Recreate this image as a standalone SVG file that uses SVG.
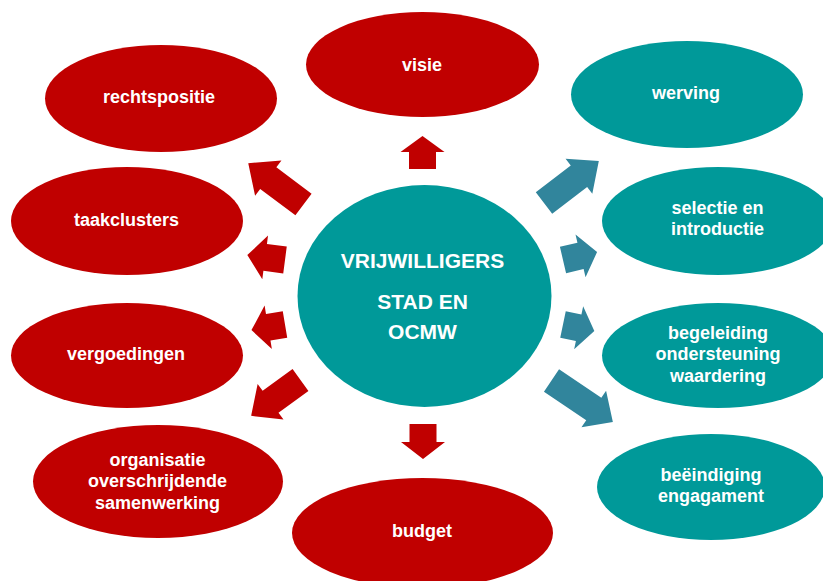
<svg xmlns="http://www.w3.org/2000/svg" width="823" height="581" viewBox="0 0 823 581">
<style>
.red{fill:#C00000}
.teal{fill:#009999}
.arr-r{fill:#C00000}
.arr-b{fill:#31859C}
text{font-family:"Liberation Sans",Arial,sans-serif;font-weight:bold;fill:#FFFFFF;text-anchor:middle}
.lbl{font-size:18px}
.ctr{font-size:21px}
</style>
<rect width="823" height="581" fill="#FFFFFF"/>
<g id="connectors">
<polygon class="arr-r" transform="translate(422.5,169) rotate(-90)" points="0,-13.5 17,-13.5 17,-22 33,0 17,22 17,13.5 0,13.5"/>
<polygon class="arr-r" transform="translate(423,424) rotate(90)" points="0,-13.5 18,-13.5 18,-22 35,0 18,22 18,13.5 0,13.5"/>
<polygon class="arr-r" transform="translate(303.5,204.5) rotate(216.8)" points="0,-13.5 44,-13.5 44,-22 69,0 44,22 44,13.5 0,13.5"/>
<polygon class="arr-r" transform="translate(285,260) rotate(187.5)" points="0,-13.5 20,-13.5 20,-22 38,0 20,22 20,13.5 0,13.5"/>
<polygon class="arr-r" transform="translate(285,324.5) rotate(170.5)" points="0,-13.5 17,-13.5 17,-22 34,0 17,22 17,13.5 0,13.5"/>
<polygon class="arr-r" transform="translate(300.5,380) rotate(144)" points="0,-13.5 37,-13.5 37,-22 61,0 37,22 37,13.5 0,13.5"/>
<polygon class="arr-b" transform="translate(544,203) rotate(-37.4)" points="0,-13.5 44,-13.5 44,-22 69,0 44,22 44,13.5 0,13.5"/>
<polygon class="arr-b" transform="translate(563,260) rotate(-13.2)" points="0,-13.5 18,-13.5 18,-22 35,0 18,22 18,13.5 0,13.5"/>
<polygon class="arr-b" transform="translate(563,324.5) rotate(11.8)" points="0,-13.5 16,-13.5 16,-22 32,0 16,22 16,13.5 0,13.5"/>
<polygon class="arr-b" transform="translate(551.5,380.5) rotate(34)" points="0,-13.5 51,-13.5 51,-22 74,0 51,22 51,13.5 0,13.5"/>
</g>
<g id="center">
<ellipse class="teal" cx="424.5" cy="296" rx="127" ry="111"/>
<text class="ctr" x="422.5" y="268">VRIJWILLIGERS</text>
<text class="ctr" x="422.5" y="309">STAD EN</text>
<text class="ctr" x="422.5" y="339">OCMW</text>
</g>
<g id="visie">
<ellipse class="red" cx="422.5" cy="64.5" rx="116.5" ry="52.5"/>
<text class="lbl" x="422" y="71">visie</text>
</g>
<g id="rechtspositie">
<ellipse class="red" cx="161" cy="98.5" rx="116" ry="53.5"/>
<text class="lbl" x="159" y="103">rechtspositie</text>
</g>
<g id="taakclusters">
<ellipse class="red" cx="127" cy="221" rx="116" ry="54"/>
<text class="lbl" x="126.5" y="226">taakclusters</text>
</g>
<g id="vergoedingen">
<ellipse class="red" cx="127" cy="355.5" rx="116" ry="52.5"/>
<text class="lbl" x="126" y="360">vergoedingen</text>
</g>
<g id="organisatie">
<ellipse class="red" cx="158" cy="481.5" rx="125" ry="56.5"/>
<text class="lbl" x="157.5" y="465.5">organisatie</text>
<text class="lbl" x="157.5" y="487">overschrijdende</text>
<text class="lbl" x="157.5" y="508.5">samenwerking</text>
</g>
<g id="budget">
<ellipse class="red" cx="422.5" cy="533" rx="130.5" ry="55"/>
<text class="lbl" x="422" y="537">budget</text>
</g>
<g id="werving">
<ellipse class="teal" cx="687" cy="94.5" rx="116" ry="53.5"/>
<text class="lbl" x="686" y="98.5">werving</text>
</g>
<g id="selectie">
<ellipse class="teal" cx="718" cy="221" rx="116" ry="54"/>
<text class="lbl" x="717.5" y="213.5">selectie en</text>
<text class="lbl" x="717.5" y="235">introductie</text>
</g>
<g id="begeleiding">
<ellipse class="teal" cx="718" cy="355.5" rx="116" ry="52.5"/>
<text class="lbl" x="718" y="338.5">begeleiding</text>
<text class="lbl" x="718" y="360">ondersteuning</text>
<text class="lbl" x="718" y="381.5">waardering</text>
</g>
<g id="beeindiging">
<ellipse class="teal" cx="711" cy="487" rx="114" ry="53"/>
<text class="lbl" x="711" y="481">beëindiging</text>
<text class="lbl" x="711" y="501.5">engagament</text>
</g>
</svg>
